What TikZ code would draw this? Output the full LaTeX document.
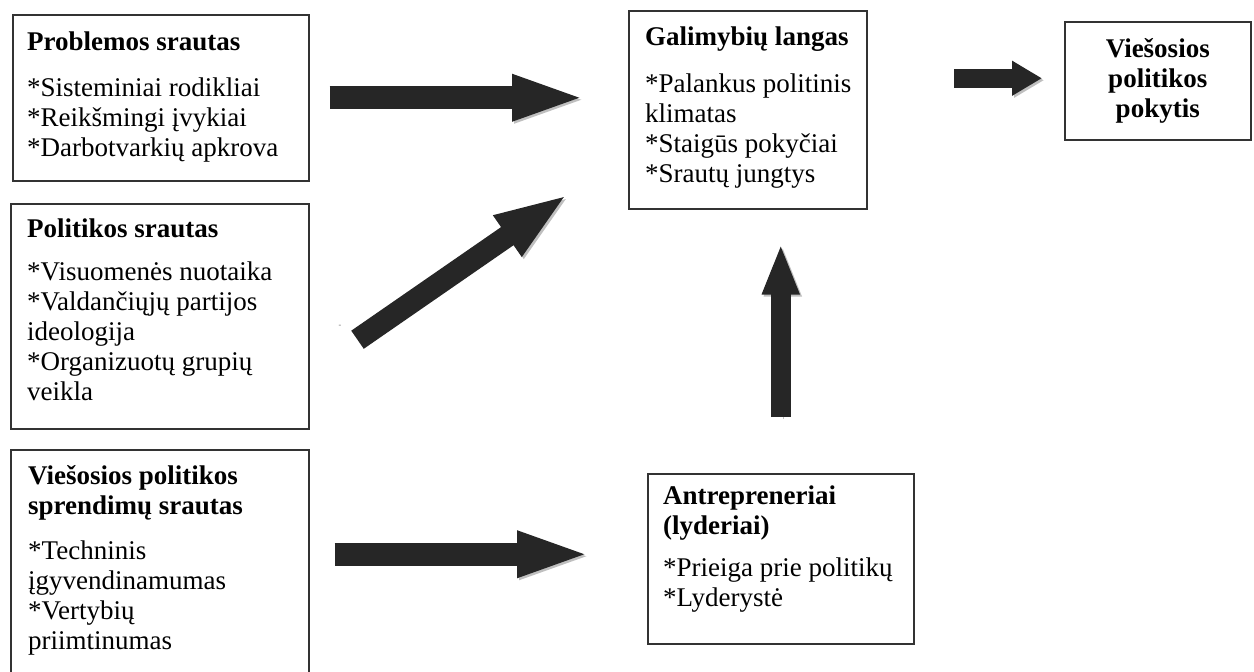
\documentclass[tikz,border=0pt]{standalone}
\usepackage{fontspec}
\setmainfont{Liberation Serif}
\usetikzlibrary{arrows.meta, positioning}
\tikzset{
    box/.style={draw=black!80, line width=1.5pt, inner sep=0pt, anchor=north west}, % outline of every block
    boxtext/.style={inner sep=0pt, anchor=north west, align=left, font=\fontsize{27}{30}\selectfont}, % text set in a block
    fatarrow/.style={draw=black!85, line width=23pt, -{Triangle[length=75pt, width=41pt]},
        preaction={draw=black!25, transform canvas={shift={(2pt,-2pt)}}}}, % block arrow with its shadow
}

\begin{document}
\begin{tikzpicture}[x=1pt, y=-1pt]
    \useasboundingbox (0,0) rectangle (1254,672);
    % blocks
    \node[box, minimum width=296pt, minimum height=166pt] (prob) at (12,14) {};
    \node[box, minimum width=298pt, minimum height=225pt] (pol) at (10,203) {};
    \node[box, minimum width=298pt, minimum height=240pt] (spr) at (10,449) {};
    \node[box, minimum width=238pt, minimum height=198pt] (gal) at (628,10) {};
    \node[box, minimum width=186pt, minimum height=118pt] (pok) at (1064,21) {};
    \node[box, minimum width=266pt, minimum height=170pt] (ant) at (647,473) {};
    % texts
    \node[boxtext] (probtext) at ([shift={(15,18)}]prob.north west)
        {\textbf{Problemos srautas}\\[16pt] *Sisteminiai rodikliai\\ *Reikšmingi įvykiai\\ *Darbotvarkių apkrova};
    \node[boxtext] (poltext) at ([shift={(17,16)}]pol.north west)
        {\textbf{Politikos srautas}\\[13pt] *Visuomenės nuotaika\\ *Valdančiųjų partijos\\ ideologija\\ *Organizuotų grupių\\ veikla};
    \node[boxtext] (sprtext) at ([shift={(18,16)}]spr.north west)
        {\textbf{Viešosios politikos}\\ \textbf{sprendimų srautas}\\[15pt] *Techninis\\ įgyvendinamumas\\ *Vertybių\\ priimtinumas};
    \node[boxtext] (galtext) at ([shift={(17,17)}]gal.north west)
        {\textbf{Galimybių langas}\\[17pt] *Palankus politinis\\ klimatas\\ *Staigūs pokyčiai\\ *Srautų jungtys};
    \node[boxtext, anchor=center, align=center] (poktext) at (pok)
        {\textbf{Viešosios}\\ \textbf{politikos}\\ \textbf{pokytis}};
    \node[boxtext] (anttext) at ([shift={(16,13)}]ant.north west)
        {\textbf{Antrepreneriai}\\ \textbf{(lyderiai)}\\[12pt] *Prieiga prie politikų\\ *Lyderystė};
    \node[font=\fontsize{8}{8}\selectfont, text=black!60, inner sep=0pt] (dash) at (340,326) {-};
    % arrows
    \draw[fatarrow] ([shift={(20,0)}]prob.east) -- ([shift={(-41,0)}]gal.west |- prob.east);
    \draw[fatarrow, line width=22pt, -{Triangle[length=75pt, width=44pt]}]
        ([shift={(48,23.5)}]pol.east) -- ([shift={(-59,-16)}]gal.south west);
    \draw[fatarrow, line width=19pt, -{Triangle[length=30pt, width=33pt]}]
        ([shift={(-110,-2.5)}]pok.west) -- ([shift={(-22,-2.5)}]pok.west);
    \draw[fatarrow] ([shift={(25,-4.5)}]spr.east |- ant.west) -- ([shift={(-55,-4.5)}]ant.west);
    \draw[fatarrow, line width=20pt, -{Triangle[length=51pt, width=34pt]}]
        ([shift={(0,-56)}]ant.north) -- ([shift={(0,34)}]ant.north |- gal.south);
\end{tikzpicture}
\end{document}
